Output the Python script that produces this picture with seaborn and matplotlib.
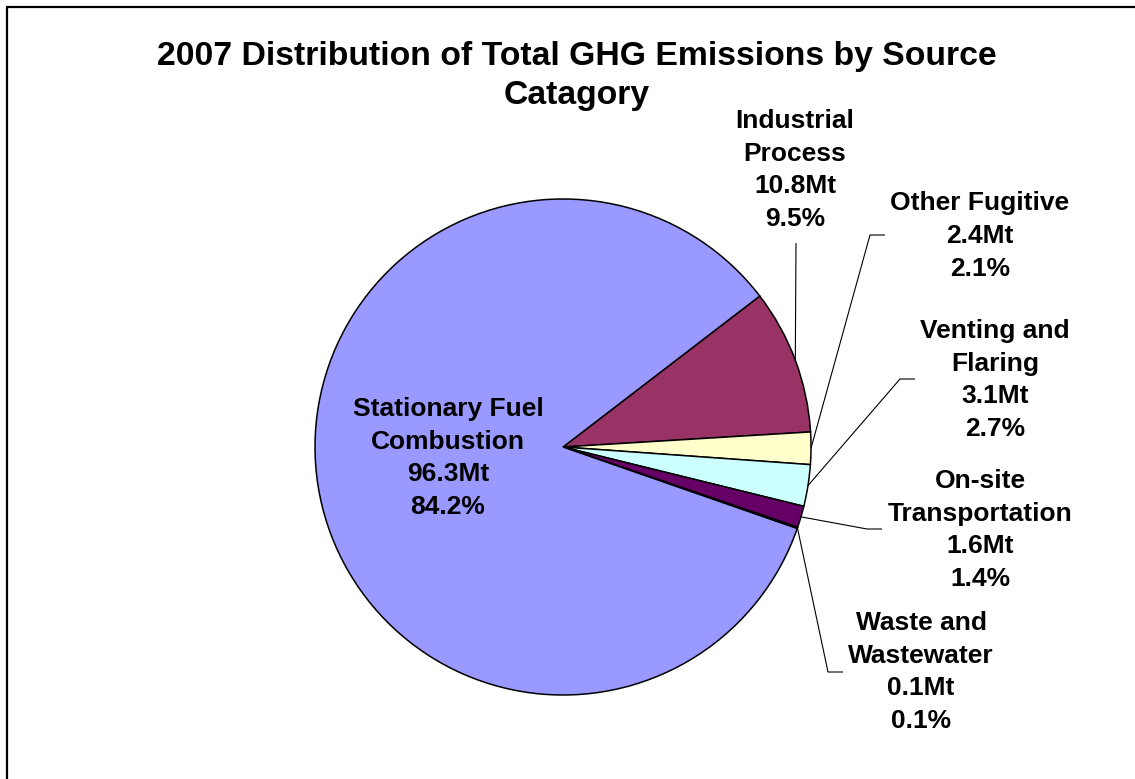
import matplotlib
matplotlib.use("Agg")
import matplotlib.pyplot as plt
import seaborn as sns
import numpy as np
from matplotlib.patches import Rectangle

sns.set_theme(style="white")
plt.rcParams['font.family'] = ['Liberation Sans', 'DejaVu Sans']

# ---- data ----
categories = ["Industrial\nProcess", "Other Fugitive", "Venting and\nFlaring",
              "On-site\nTransportation", "Waste and\nWastewater",
              "Stationary Fuel\nCombustion"]
emissions_mt = [10.8, 2.4, 3.1, 1.6, 0.1, 96.3]
percent_labels = ["9.5%", "2.1%", "2.7%", "1.4%", "0.1%", "84.2%"]
mt_labels = ["10.8Mt", "2.4Mt", "3.1Mt", "1.6Mt", "0.1Mt", "96.3Mt"]
colors = ["#993366", "#FFFFCC", "#CCFFFF", "#660066", "#FF8080", "#9999FF"]

W, H = 1135, 779
fig = plt.figure(figsize=(W / 100, H / 100), dpi=100)
ax = fig.add_axes([0, 0, 1, 1])

def Y(y):
    return H - y

cx, cy, R = 563, 447, 248
wedges, _ = ax.pie(emissions_mt, colors=colors, startangle=37.5, counterclock=False,
                   center=(cx, Y(cy)), radius=R, frame=True,
                   wedgeprops=dict(edgecolor="black", linewidth=1.1))
ax.set_xlim(0, W)
ax.set_ylim(0, H)
ax.set_aspect("equal")
ax.axis("off")

# label block centers (image pixel coords) and leader elbows
label_pos = [(795, 170), (980, 236), (995, 380), (980, 530), (921, 672), (448, 458)]
elbows = [
    [(796, 243)],
    [(870, 235), (885, 235)],
    [(900, 379), (915, 379)],
    [(867, 529), (882, 529)],
    [(828, 672), (843, 672)],
    None,
]

for w, lab, mt, pc, (lx, ly), el in zip(wedges, categories, mt_labels, percent_labels,
                                         label_pos, elbows):
    ax.text(lx, Y(ly), f"{lab}\n{mt}\n{pc}", ha="center", va="center",
            fontsize=19, fontweight="bold", color="black", linespacing=1.45)
    if el is not None:
        mid = np.deg2rad((w.theta1 + w.theta2) / 2)
        px = cx + R * np.cos(mid)
        py = Y(cy) + R * np.sin(mid)
        xs = [px] + [e[0] for e in el]
        ys = [py] + [Y(e[1]) for e in el]
        ax.plot(xs, ys, color="black", linewidth=0.8, solid_capstyle="butt")

ax.text(577, Y(76), "2007 Distribution of Total GHG Emissions by Source\nCatagory",
        ha="center", va="center", fontsize=24.3, fontweight="bold", color="black",
        linespacing=1.37)

fig.patches.append(Rectangle((7 / W, -0.1), 1.2, (H - 7) / H + 0.1, transform=fig.transFigure,
                             fill=False, edgecolor="black", linewidth=1.6))

fig.savefig("out.png", dpi=100, facecolor="white")
